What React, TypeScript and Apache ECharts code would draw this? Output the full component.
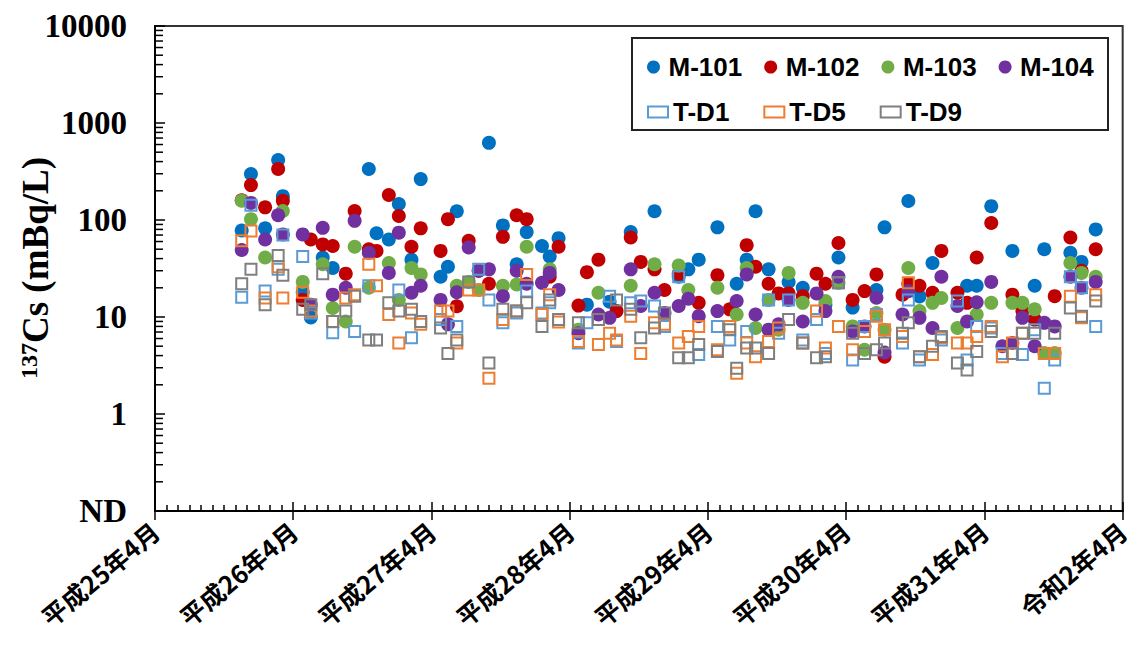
import React, { useEffect, useRef } from "react";
import * as echarts from "echarts";

// Sampling dates (columns)
const dates: string[] = [
  "2013-11-17","2013-12-11","2014-01-18","2014-02-22","2014-03-04","2014-04-26","2014-05-17","2014-06-18","2014-07-14","2014-08-18",
  "2014-09-11","2014-10-18","2014-11-08","2014-12-10","2015-01-06","2015-02-09","2015-03-03","2015-04-25","2015-05-14","2015-06-07",
  "2015-07-08","2015-08-04","2015-08-31","2015-10-07","2015-11-13","2015-12-09","2016-01-19","2016-02-09","2016-03-02","2016-04-24",
  "2016-05-16","2016-06-16","2016-07-15","2016-08-03","2016-09-10","2016-10-06","2016-11-12","2016-12-08","2017-01-15","2017-02-10",
  "2017-03-07","2017-04-26","2017-05-28","2017-06-16","2017-07-12","2017-08-05","2017-09-09","2017-10-05","2017-11-01","2017-12-08",
  "2018-01-14","2018-02-07","2018-03-11","2018-04-18","2018-05-19","2018-06-20","2018-07-11","2018-08-28","2018-09-13","2018-10-12",
  "2018-11-16","2018-12-09","2019-01-21","2019-02-16","2019-03-11","2019-04-19","2019-05-18","2019-06-14","2019-07-10","2019-08-12",
  "2019-09-07","2019-10-04","2019-11-15","2019-12-14","2020-01-21",
];

const m101: (number | null)[] = [
  78, 298, 82, 416, 176, 18, 9.9, 41, 32, null,
  null, 336, 73, 63, 146, 39, 264, 26, 33, 123,
  null, null, 624, 88, 35, 75, 54, 42, 65, null,
  13.4, null, 14.4, null, 75, null, 123, null, 26, 31,
  39, 84, null, 22, 39, 123, 31, null, 23, 20,
  null, 13.4, 41, 12.5, null, 19, 84, null, 157, 16.3,
  36, null, null, 21, 21, 139, null, 48, null, 21,
  50, null, 46, 37, 80,
];
const m102: (number | null)[] = [
  160, 229, 135, 336, 158, 15, 63, 56, 54, 28,
  124, 50, 48, 181, 110, 53, 82, 48, 102, 12.9,
  61, 30, 22, 67, 112, 102, null, 26, 53, 13.1,
  29, 39, null, 11.5, 66, 37, 31, 19, 28, null,
  14, 27, 12, null, 55, 33, 22, 17.5, 17.5, 16.4,
  28, 22, 58, 15, 18.5, 27.5, 3.9, 17, 22, 21,
  17.8, 48, 17.8, 14, 41, 93, null, 17, 11.5, 9.4,
  null, 16.4, 66, 30, 50,
];
const m103: (number | null)[] = [
  158, 102, 41, null, 124, 23, null, 35, 12.4, 9,
  53, 20, null, 36, 15, 32, 27.5, null, null, 21,
  23, 19, null, 21, 21.6, 53, null, 31, null, 7.4,
  null, 17.8, null, null, 21, null, 35, null, 34, 19,
  null, 20, null, 10.6, 32, 7.7, 15, 7.4, 28.5, 14,
  null, 14.6, 22.5, 8, 4.6, 11, 7.4, null, 32, 11.5,
  14, 15.7, 7.7, null, 10.6, 14, null, 14, 14, 12,
  4.25, 4.25, 36, 28.5, 26,
];
const m104: (number | null)[] = [
  49, 150, 63, 112, 71, 71, 13.4, 83, 17, 20,
  98, 46, null, 28.5, 74, 17.8, 21, 15, 8.4, 18,
  52, 30, 31, 16.4, 30, 22, 22.5, 28.5, 19, 6.8,
  null, 10.6, 9.8, null, 31, 13, 17.8, 11, 13, 15.4,
  10.2, 11.5, null, 14.6, 27.5, 10.6, 7.4, 8.4, 15, 9,
  17.5, 11.5, 26, 7.1, 8, 15.8, 4.3, 10.6, 18.5, 9.8,
  7.7, 26, 13, 9, 14.2, 23, 5, 5.4, 9.8, 5,
  8.7, 8, 26, 20, 23,
];
const td1: (number | null)[] = [
  16, 142, 18.5, 31, 70, 42, 11, null, 6.9, null,
  7.1, 21, null, null, 19, 6.1, null, 9.4, null, 8,
  null, 31, 15, 8.7, 11, 18.5, 11, 14, null, 5.4,
  8.7, null, 16.4, 5.6, 14, 14.6, 13, 8, 26, null,
  4.1, 8, 5.8, null, 7.1, null, 15, 6.8, 15, 5.8,
  9.4, 4.2, 22.5, 3.6, 8, 10.6, null, 5.4, 15, 3.6,
  null, 5.8, 14.6, 3.6, 8, 7.7, 4.2, null, 4.1, 7.4,
  1.84, 3.6, 26, 20, 8,
];
const td5: (number | null)[] = [
  61, 77, 15.7, 33, 15.7, 18, 11.5, null, 9, 15.7,
  17, 35, 21, 10.6, 5.4, 11, 8.4, 11.5, 11.5, 5.4,
  19, 19, 2.34, 9.4, 11.5, 27.5, 10.6, 17, 8.9, 5.6,
  null, 5.2, 6.8, 5.8, 10.2, 4.2, 8.7, 8.4, 5.4, 6.3,
  8, 4.6, 8, 2.63, 5.4, 3.9, 5.6, 7.7, null, 5.4,
  11.5, 4.8, 8, 4.6, 7.1, 10.2, 7.4, 6.3, 22.5, 3.9,
  4.1, 6.1, 5.4, 5.4, 6.3, 8, 3.9, 5.4, 6.8, null,
  4.2, 4.2, 16.4, 9.8, 17,
];
const td9: (number | null)[] = [
  22, 31, 13.4, 43, 27, 12, 13.4, 28, 9, 11.5,
  16.4, 5.8, 5.8, 14, 11.5, 12, 9, 7.7, 4.2, 5.8,
  23, null, 3.35, 12, 11.5, 14, 8, 15, 9.4, 8.7,
  null, 9.4, null, 15, 12, 6.1, 7.7, 11, 3.8, 3.8,
  5.2, 4.4, 7.4, 2.97, 4.8, 4.8, 4.2, null, 9.4, 5.4,
  3.8, 3.9, 22.5, 6.8, 4.2, 4.6, 5.4, 6.8, 8.7, 3.9,
  5, 6.3, 3.35, 2.85, 4.4, 7.1, null, 4.2, 6.8, 6.8,
  null, 6.8, 12.4, 10.2, 14.6,
];

const xTickLabels = [
  "平成25年4月", "平成26年4月", "平成27年4月", "平成28年4月",
  "平成29年4月", "平成30年4月", "平成31年4月", "令和2年4月",
];
const yTickValues = [0.1, 1, 10, 100, 1000, 10000];
const yTickLabels = ["ND", "1", "10", "100", "1000", "10000"];

const dotNames = ["M-101", "M-102", "M-103", "M-104"];
const dotValues = [m101, m102, m103, m104];
const dotColors = ["#0070C0", "#C00000", "#70AD47", "#7030A0"];
const sqNames = ["T-D1", "T-D5", "T-D9"];
const sqValues = [td1, td5, td9];
const sqColors = ["#5B9BD5", "#ED7D31", "#7F7F7F"];

function toMonths(d: string): number {
  const [y, m, dd] = d.split("-").map(Number);
  return (y - 2013) * 12 + (m - 4) + (dd - 1) / 30.4;
}

function buildData(vals: (number | null)[]) {
  const out: number[][] = [];
  vals.forEach((v, i) => {
    if (v != null) out.push([toMonths(dates[i]), v]);
  });
  return out;
}

// y-axis tick positions: decades and 2..9 between them
const yTickSet: number[][] = [];
for (let k = -1; k <= 4; k++) {
  for (let m = 1; m <= 9; m++) {
    const v = m * Math.pow(10, k);
    if (v <= 10000 + 1e-9) yTickSet.push([0, v, m === 1 ? 10 : 8]);
  }
}

export default function App() {
  const ref = useRef<HTMLDivElement>(null);
  useEffect(() => {
    document.body.style.margin = "0";
    const chart = echarts.init(ref.current!, undefined, { renderer: "svg" });

    const tickStyle = { color: "#000", width: 1.5 };
    const legendText = {
      fontFamily: "Liberation Sans, Arial, sans-serif",
      fontWeight: "bold" as const,
      fontSize: 26,
      color: "#000",
    };

    const option: any = {
      animation: false,
      backgroundColor: "#fff",
      grid: {
        left: 155,
        top: 26,
        width: 969,
        height: 485,
        show: true,
        borderColor: "#333",
        borderWidth: 2,
        backgroundColor: "transparent",
      },
      xAxis: [
        {
          type: "value",
          min: 0,
          max: 84,
          interval: 12,
          position: "bottom",
          axisLine: { show: true, lineStyle: { color: "#000", width: 2 } },
          axisTick: { show: true, inside: false, length: 9, lineStyle: tickStyle },
          splitLine: { show: false },
          axisLabel: {
            rotate: 40,
            margin: 16,
            fontFamily: "Noto Sans CJK JP, sans-serif",
            fontWeight: "bold",
            fontSize: 25,
            color: "#000",
            formatter: (v: number) => xTickLabels[Math.round(v / 12)] ?? "",
          },
        },
        {
          type: "value",
          min: 0,
          max: 84,
          interval: 12,
          position: "bottom",
          axisLine: { show: false },
          axisLabel: { show: false },
          splitLine: { show: false },
          axisTick: { show: true, inside: true, length: 9, lineStyle: tickStyle },
          minorTick: { show: true, splitNumber: 12, length: 6, lineStyle: tickStyle },
        },
      ],
      yAxis: {
        type: "log",
        logBase: 10,
        min: 0.1,
        max: 10000,
        axisLine: { show: true, lineStyle: { color: "#000", width: 2 } },
        axisTick: { show: false },
        splitLine: { show: false },
        axisLabel: {
          margin: 28,
          fontFamily: "Liberation Serif, Times New Roman, serif",
          fontWeight: "bold",
          fontSize: 33,
          color: "#000",
          formatter: (v: number) => {
            let best = 0;
            yTickValues.forEach((t, i) => {
              if (Math.abs(Math.log10(t) - Math.log10(v)) < Math.abs(Math.log10(yTickValues[best]) - Math.log10(v))) best = i;
            });
            return yTickLabels[best];
          },
        },
      },
      legend: [
        {
          data: dotNames.map((n, i) => ({ name: n, icon: "circle", itemStyle: { color: dotColors[i] } })),
          left: 642,
          top: 49,
          itemWidth: 20,
          itemHeight: 13,
          itemGap: 22,
          selectedMode: false,
          textStyle: legendText,
        },
        {
          data: sqNames.map((n, i) => ({
            name: n,
            icon: "rect",
            itemStyle: { color: "rgba(255,255,255,0)", borderColor: sqColors[i], borderWidth: 2 },
          })),
          left: 642,
          top: 94,
          itemWidth: 20,
          itemHeight: 11,
          itemGap: 34,
          selectedMode: false,
          textStyle: legendText,
        },
      ],
      graphic: [
        {
          type: "rect",
          shape: { x: 632, y: 38, width: 476, height: 92 },
          style: { fill: "#fff", stroke: "#222", lineWidth: 2 },
          z: 3,
          silent: true,
        },
        {
          type: "text",
          x: 35,
          y: 268,
          rotation: Math.PI / 2,
          silent: true,
          style: {
            text: "{s|137}{m|Cs (mBq/L)}",
            align: "center",
            verticalAlign: "middle",
            rich: {
              s: {
                fontFamily: "Liberation Serif, Times New Roman, serif",
                fontWeight: "bold",
                fontSize: 24,
                fill: "#000",
                verticalAlign: "top",
              },
              m: {
                fontFamily: "Liberation Serif, Times New Roman, serif",
                fontWeight: "bold",
                fontSize: 37,
                fill: "#000",
                verticalAlign: "bottom",
              },
            },
          },
        },
      ],
      series: [
        ...dotNames.map((n, i) => ({
          name: n,
          type: "scatter",
          symbol: "circle",
          symbolSize: 14,
          silent: true,
          itemStyle: { color: dotColors[i], opacity: 1 },
          data: buildData(dotValues[i]),
          z: 2,
        })),
        ...sqNames.map((n, i) => ({
          name: n,
          type: "scatter",
          symbol: "rect",
          symbolSize: 11,
          silent: true,
          itemStyle: { color: "rgba(255,255,255,0)", borderColor: sqColors[i], borderWidth: 2, opacity: 1 },
          data: buildData(sqValues[i]),
          z: 2,
        })),
        {
          type: "custom",
          name: "yTicks",
          silent: true,
          clip: false,
          z: 10,
          encode: { x: 0, y: 1 },
          data: yTickSet,
          renderItem: (params: any, api: any) => {
            const p = api.coord([api.value(0), api.value(1)]);
            const len = api.value(2);
            return {
              type: "rect",
              shape: { x: p[0], y: p[1] - 0.75, width: len, height: 1.5 },
              style: { fill: "#000" },
            };
          },
        },
      ],
    };

    chart.setOption(option);
    return () => chart.dispose();
  }, []);
  return <div ref={ref} style={{ width: 1133, height: 646, background: "#fff" }} />;
}
